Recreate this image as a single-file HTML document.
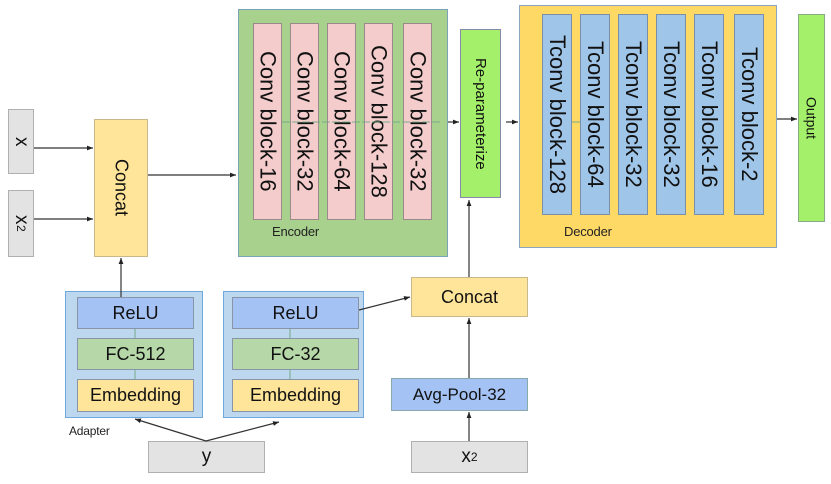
<!DOCTYPE html>
<html><head><style>
body{margin:0;width:831px;height:484px;background:#fff;position:relative;overflow:hidden;font-family:"Liberation Sans",sans-serif;}
.b{position:absolute;box-sizing:border-box;display:flex;align-items:center;justify-content:center;color:#111;}
.v{writing-mode:vertical-rl;}
.conv{background:#f4cccc;border:1px solid #9a8a8a;font-size:22px;top:23px;height:197px;width:29px;}
.tc{background:#9fc5e8;border:1px solid #7a8fa6;font-size:22px;top:14px;height:201px;width:30px;}
.g{background:#e3e3e3;border:1px solid #b0b0b0;font-size:19px;}
.lab{position:absolute;font-size:13px;color:#222;letter-spacing:-0.2px}
</style></head><body>
<div class="b g v" style="left:8px;top:109px;width:26px;height:65px;">x</div>
<div class="b g v" style="left:8px;top:190px;width:26px;height:67px;">x<sub style="font-size:12px">2</sub></div>
<div class="b v" style="left:94px;top:119px;width:54px;height:138px;background:#ffe599;border:1px solid #c9b98a;font-size:18px;">Concat</div>
<div class="b" style="left:238px;top:9px;width:210px;height:248px;background:#a9d18e;border:1px solid #7aa2b8;"></div>
<div class="lab" style="left:272px;top:224px;">Encoder</div>
<div class="b conv v" style="left:253px">Conv block-16</div>
<div class="b conv v" style="left:290px">Conv block-32</div>
<div class="b conv v" style="left:327px">Conv block-64</div>
<div class="b conv v" style="left:364px">Conv block-128</div>
<div class="b conv v" style="left:403px">Conv block-32</div>
<div class="b v" style="left:460px;top:29px;width:41px;height:169px;background:#a4f06a;border:1px solid #88a;font-size:15px;">Re-parameterize</div>
<div class="b" style="left:519px;top:5px;width:258px;height:243px;background:#ffd966;border:1px solid #8aa6c0;"></div>
<div class="lab" style="left:564px;top:224px;">Decoder</div>
<div class="b tc v" style="left:542px">Tconv block-128</div>
<div class="b tc v" style="left:580px">Tconv block-64</div>
<div class="b tc v" style="left:618px">Tconv block-32</div>
<div class="b tc v" style="left:656px">Tconv block-32</div>
<div class="b tc v" style="left:694px">Tconv block-16</div>
<div class="b tc v" style="left:734px">Tconv block-2</div>
<div class="b v" style="left:798px;top:14px;width:27px;height:208px;background:#a4f06a;border:1px solid #8a8;font-size:14px;">Output</div>

<div class="b" style="left:65px;top:291px;width:138px;height:127px;background:#bdd7ee;border:1px solid #6fa8dc;"></div>
<div class="b" style="left:223px;top:291px;width:141px;height:127px;background:#bdd7ee;border:1px solid #6fa8dc;"></div>
<div class="b" style="left:77px;top:297px;width:117px;height:32px;background:#a4c2f4;border:1px solid #8895a8;font-size:18px;">ReLU</div>
<div class="b" style="left:77px;top:338px;width:117px;height:32px;background:#b6d7a8;border:1px solid #8895a8;font-size:18px;">FC-512</div>
<div class="b" style="left:77px;top:379px;width:117px;height:33px;background:#ffe599;border:1px solid #8895a8;font-size:18px;">Embedding</div>
<div class="b" style="left:232px;top:297px;width:127px;height:32px;background:#a4c2f4;border:1px solid #8895a8;font-size:18px;">ReLU</div>
<div class="b" style="left:232px;top:338px;width:127px;height:32px;background:#b6d7a8;border:1px solid #8895a8;font-size:18px;">FC-32</div>
<div class="b" style="left:232px;top:379px;width:127px;height:33px;background:#ffe599;border:1px solid #8895a8;font-size:18px;">Embedding</div>
<div class="lab" style="left:69px;top:424px;font-size:12px;">Adapter</div>
<div class="b" style="left:411px;top:277px;width:117px;height:40px;background:#ffe599;border:1px solid #c9b98a;font-size:18px;">Concat</div>
<div class="b" style="left:391px;top:378px;width:137px;height:33px;background:#a4c2f4;border:1px solid #8aa;font-size:17px;">Avg-Pool-32</div>
<div class="b g" style="left:148px;top:441px;width:117px;height:32px;">y</div>
<div class="b g" style="left:411px;top:441px;width:117px;height:32px;">x<sub style="font-size:12px">2</sub></div>

<svg width="831" height="484" style="position:absolute;left:0;top:0">
<defs><marker id="a" markerWidth="6" markerHeight="6" refX="5" refY="3" orient="auto"><path d="M0,1 L5,3 L0,5z" fill="#222"/></marker></defs>
<g stroke="#333" stroke-width="1.2" fill="none" marker-end="url(#a)">
<line x1="34" y1="148" x2="93" y2="148"/>
<line x1="34" y1="219" x2="93" y2="219"/>
<line x1="148" y1="175" x2="236" y2="175"/>
<line x1="448" y1="122" x2="459" y2="122"/>
<line x1="506" y1="122" x2="518" y2="122"/>
<line x1="777" y1="119" x2="797" y2="119"/>
<line x1="121" y1="297" x2="121" y2="258"/>
<line x1="359" y1="310" x2="410" y2="297"/>
<line x1="469" y1="277" x2="469" y2="200"/>
<line x1="469" y1="378" x2="469" y2="318"/>
<line x1="469" y1="441" x2="469" y2="412"/>
<line x1="206" y1="441" x2="135" y2="419"/>
<line x1="206" y1="441" x2="279" y2="422"/>
</g>
<g stroke="#7a8" stroke-width="1"><line x1="282" y1="122" x2="440" y2="122" stroke-dasharray="8 2"/><line x1="572" y1="122" x2="580" y2="122"/>
<line x1="135" y1="329" x2="135" y2="338"/><line x1="135" y1="370" x2="135" y2="379"/><line x1="290" y1="329" x2="290" y2="338"/><line x1="290" y1="370" x2="290" y2="379"/></g>
</svg>
</body></html>
